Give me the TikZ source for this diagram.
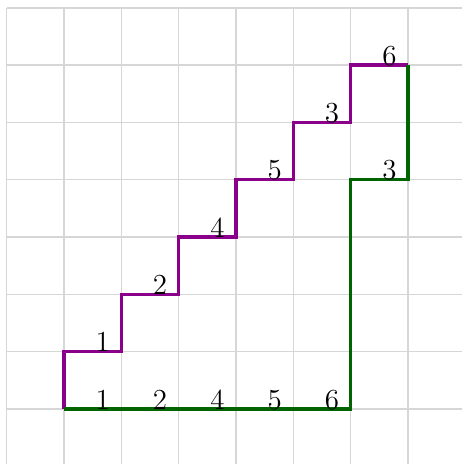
\documentclass[tikz,border=0pt]{standalone}
\usepackage{amsmath,amssymb}
\usepackage{tikz}
\definecolor{GridGray}{HTML}{D6D6D6}
\definecolor{Plum}{HTML}{8B008B}
\definecolor{Pine}{HTML}{006400}

\begin{document}
\begin{tikzpicture}[scale=1,
    steplabel/.style={anchor=base east,inner sep=0pt,xshift=-5.5pt,
      font=\fontsize{15.5}{18}\selectfont}]
  \useasboundingbox (-1.116,-0.959) rectangle (6.942,7.134);
  \draw[GridGray,line width=0.8pt] (-1,-0.96) grid (6.94,7);
  % upper staircase
  \draw[Plum,line width=1.6pt] (0,0) -- (0,1) -- (1,1) -- (1,2) -- (2,2) -- (2,3)
    -- (3,3) -- (3,4) -- (4,4) -- (4,5) -- (5,5) -- (5,6) -- (6,6);
  % lower path
  \draw[Pine,line width=1.6pt] (0,0) -- (5,0) -- (5,4) -- (6,4) -- (6,6);
  \foreach \x/\lab in {1/1,2/2,3/4,4/5,5/3,6/6}
    \node[steplabel] (up\x) at (\x,\x) {$\lab$};
  \foreach \x/\lab in {1/1,2/2,3/4,4/5,5/6}
    \node[steplabel] (lo\x) at (\x,0) {$\lab$};
  \node[steplabel] (lo6) at (6,4) {$3$};
\end{tikzpicture}
\end{document}
